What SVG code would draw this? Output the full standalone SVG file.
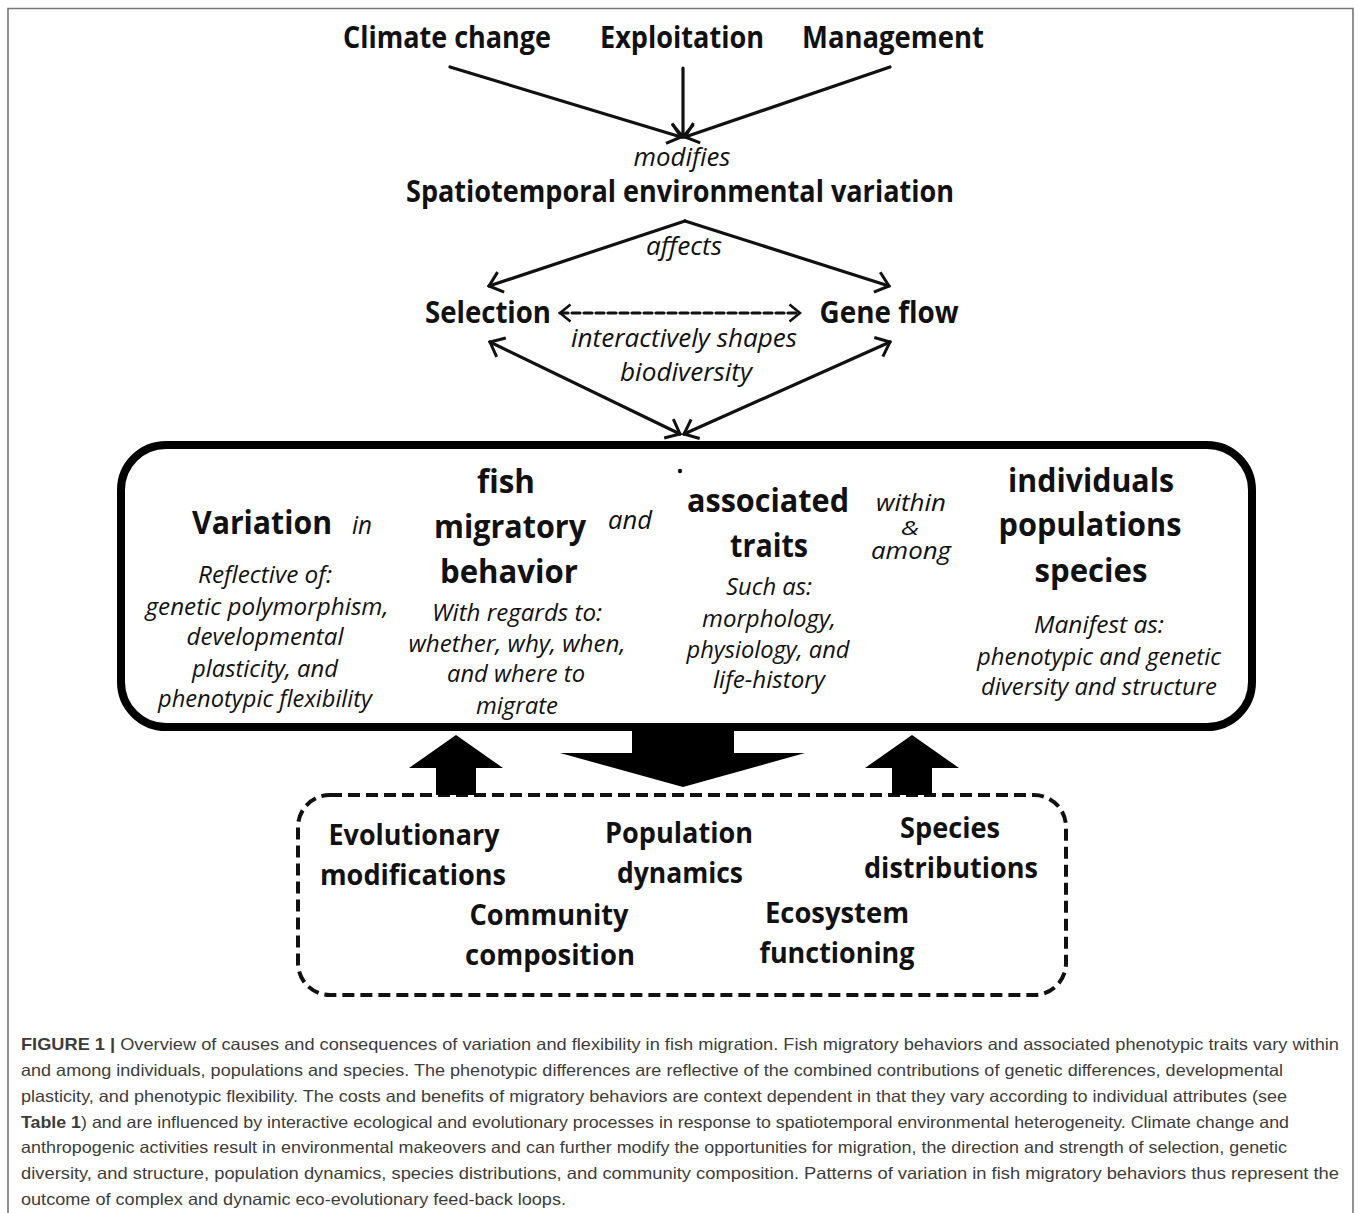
<svg xmlns="http://www.w3.org/2000/svg" width="1358" height="1213" viewBox="0 0 1358 1213">
<style>
.b{font-family:"Open Sans","Noto Sans",sans-serif;font-weight:700;fill:#111;text-anchor:middle}
.i{font-family:"Open Sans","Noto Sans",sans-serif;font-style:italic;font-weight:400;fill:#111;text-anchor:middle}
.t{font-size:31px}.m{font-size:30px}.bx{font-size:33px}.bt{font-size:28px}.it{font-size:25px}.s{font-size:23.5px}
.ln{stroke:#111;stroke-width:3.2;fill:none;stroke-linecap:round}
.cap{font-family:"Liberation Sans",Arial,sans-serif;font-size:16.5px;fill:#3c3c3c}
</style>
<defs>
<marker id="v" viewBox="0 0 16 24" refX="14" refY="12" markerWidth="16" markerHeight="24" markerUnits="userSpaceOnUse" orient="auto-start-reverse">
<path d="M1.5,1.5 L14,12 L1.5,22.5" fill="none" stroke="#111" stroke-width="3"/>
</marker>
<marker id="vs" viewBox="0 0 14 20" refX="12" refY="10" markerWidth="14" markerHeight="20" markerUnits="userSpaceOnUse" orient="auto-start-reverse">
<path d="M1.5,1.5 L12,10 L1.5,18.5" fill="none" stroke="#111" stroke-width="2.6"/>
</marker>
</defs>
<rect x="0" y="0" width="1358" height="1213" fill="#fff"/>
<path d="M8,1213 V8.5 H1353 V1213" fill="none" stroke="#777" stroke-width="1.6"/>

<g id="n-climate"><text class="b t" x="447" y="48" textLength="208" lengthAdjust="spacingAndGlyphs">Climate change</text></g>
<g id="n-exploitation"><text class="b t" x="682" y="48" textLength="164" lengthAdjust="spacingAndGlyphs">Exploitation</text></g>
<g id="n-management"><text class="b t" x="893" y="48" textLength="182" lengthAdjust="spacingAndGlyphs">Management</text></g>
<g id="n-env">
<text class="i it" x="682" y="166" textLength="97" lengthAdjust="spacingAndGlyphs">modifies</text>
<text class="b m" x="680" y="202" textLength="548" lengthAdjust="spacingAndGlyphs">Spatiotemporal environmental variation</text>
<text class="i it" x="684" y="255" textLength="76" lengthAdjust="spacingAndGlyphs">affects</text>
</g>
<g id="n-selection"><text class="b m" x="488" y="323" textLength="126" lengthAdjust="spacingAndGlyphs">Selection</text></g>
<g id="n-geneflow"><text class="b m" x="889" y="323" textLength="139" lengthAdjust="spacingAndGlyphs">Gene flow</text></g>
<g id="n-shapes">
<text class="i it" x="684" y="347" textLength="226" lengthAdjust="spacingAndGlyphs">interactively shapes</text>
<text class="i it" x="686" y="381" textLength="132" lengthAdjust="spacingAndGlyphs">biodiversity</text>
</g>

<g id="n-variation-box">
<rect x="121" y="445" width="1131" height="282" rx="45" ry="45" fill="none" stroke="#000" stroke-width="8"/>
<circle cx="680" cy="471" r="2.2" fill="#111"/>
<text class="b bx" x="262" y="534" textLength="140" lengthAdjust="spacingAndGlyphs">Variation</text>
<text class="i it" x="362" y="534" textLength="20" lengthAdjust="spacingAndGlyphs">in</text>
<text class="i s" x="265" y="583" textLength="134" lengthAdjust="spacingAndGlyphs">Reflective of:</text>
<text class="i s" x="267" y="615" textLength="243" lengthAdjust="spacingAndGlyphs">genetic polymorphism,</text>
<text class="i s" x="265" y="645" textLength="157" lengthAdjust="spacingAndGlyphs">developmental</text>
<text class="i s" x="265" y="677" textLength="146" lengthAdjust="spacingAndGlyphs">plasticity, and</text>
<text class="i s" x="265" y="707" textLength="214" lengthAdjust="spacingAndGlyphs">phenotypic flexibility</text>

<text class="b bx" x="506" y="493" textLength="58" lengthAdjust="spacingAndGlyphs">fish</text>
<text class="b bx" x="510" y="538" textLength="152" lengthAdjust="spacingAndGlyphs">migratory</text>
<text class="b bx" x="509" y="583" textLength="138" lengthAdjust="spacingAndGlyphs">behavior</text>
<text class="i s" x="517" y="621" textLength="170" lengthAdjust="spacingAndGlyphs">With regards to:</text>
<text class="i s" x="517" y="652" textLength="217" lengthAdjust="spacingAndGlyphs">whether, why, when,</text>
<text class="i s" x="516" y="682" textLength="138" lengthAdjust="spacingAndGlyphs">and where to</text>
<text class="i s" x="517" y="714" textLength="82" lengthAdjust="spacingAndGlyphs">migrate</text>

<text class="i it" x="630" y="529" textLength="44" lengthAdjust="spacingAndGlyphs">and</text>

<text class="b bx" x="768" y="512" textLength="162" lengthAdjust="spacingAndGlyphs">associated</text>
<text class="b bx" x="769" y="557" textLength="78" lengthAdjust="spacingAndGlyphs">traits</text>
<text class="i s" x="769" y="595" textLength="86" lengthAdjust="spacingAndGlyphs">Such as:</text>
<text class="i s" x="769" y="627" textLength="134" lengthAdjust="spacingAndGlyphs">morphology,</text>
<text class="i s" x="768" y="658" textLength="163" lengthAdjust="spacingAndGlyphs">physiology, and</text>
<text class="i s" x="769" y="688" textLength="112" lengthAdjust="spacingAndGlyphs">life-history</text>

<g id="n-within-among">
<text class="i" x="911" y="511" font-size="24" textLength="70" lengthAdjust="spacingAndGlyphs">within</text>
<text class="i" x="910" y="535" font-size="20" textLength="18" lengthAdjust="spacingAndGlyphs">&amp;</text>
<text class="i" x="911" y="559" font-size="24" textLength="80" lengthAdjust="spacingAndGlyphs">among</text>
</g>

<text class="b bx" x="1091" y="492" textLength="166" lengthAdjust="spacingAndGlyphs">individuals</text>
<text class="b bx" x="1090" y="536" textLength="183" lengthAdjust="spacingAndGlyphs">populations</text>
<text class="b bx" x="1091" y="582" textLength="113" lengthAdjust="spacingAndGlyphs">species</text>
<text class="i s" x="1099" y="633" textLength="130" lengthAdjust="spacingAndGlyphs">Manifest as:</text>
<text class="i s" x="1099" y="665" textLength="244" lengthAdjust="spacingAndGlyphs">phenotypic and genetic</text>
<text class="i s" x="1099" y="695" textLength="236" lengthAdjust="spacingAndGlyphs">diversity and structure</text>
</g>

<g id="n-consequences">
<rect x="298" y="795" width="768" height="200" rx="32" ry="32" fill="none" stroke="#111" stroke-width="4" stroke-dasharray="12 6"/>
<text class="b bt" x="414" y="845" textLength="171" lengthAdjust="spacingAndGlyphs">Evolutionary</text>
<text class="b bt" x="413" y="885" textLength="186" lengthAdjust="spacingAndGlyphs">modifications</text>
<text class="b bt" x="679" y="843" textLength="148" lengthAdjust="spacingAndGlyphs">Population</text>
<text class="b bt" x="680" y="883" textLength="126" lengthAdjust="spacingAndGlyphs">dynamics</text>
<text class="b bt" x="950" y="838" textLength="100" lengthAdjust="spacingAndGlyphs">Species</text>
<text class="b bt" x="951" y="878" textLength="174" lengthAdjust="spacingAndGlyphs">distributions</text>
<text class="b bt" x="549" y="925" textLength="159" lengthAdjust="spacingAndGlyphs">Community</text>
<text class="b bt" x="550" y="965" textLength="170" lengthAdjust="spacingAndGlyphs">composition</text>
<text class="b bt" x="837" y="923" textLength="144" lengthAdjust="spacingAndGlyphs">Ecosystem</text>
<text class="b bt" x="837" y="963" textLength="155" lengthAdjust="spacingAndGlyphs">functioning</text>
</g>

<g id="connectors">
<line class="ln" x1="450" y1="67" x2="681" y2="137" marker-end="url(#v)"/>
<line class="ln" x1="683" y1="68" x2="683" y2="137" stroke-width="2.4" marker-end="url(#v)"/>
<line class="ln" x1="890" y1="67" x2="685" y2="137" marker-end="url(#v)"/>
<line class="ln" x1="685" y1="221" x2="489" y2="286" marker-end="url(#v)"/>
<line class="ln" x1="685" y1="221" x2="889" y2="286" marker-end="url(#v)"/>
<line class="ln" x1="560" y1="313" x2="800" y2="313" stroke-width="2.6" stroke-dasharray="8 4" stroke-linecap="butt" marker-start="url(#vs)" marker-end="url(#vs)"/>
<line class="ln" x1="490" y1="342" x2="680" y2="434" marker-start="url(#v)" marker-end="url(#v)"/>
<line class="ln" x1="890" y1="342" x2="684" y2="434" marker-start="url(#v)" marker-end="url(#v)"/>
<polygon points="436,795 476,795 476,768 503,768 456,735 409,768 436,768" fill="#000"/>
<polygon points="632,727 734,727 734,753 805,753 683,787 560,753 632,753" fill="#000"/>
<polygon points="892,795 932,795 932,768 959,768 912,735 865,768 892,768" fill="#000"/>
</g>

<g id="caption">
<text class="cap" x="21" y="1050" textLength="1318" lengthAdjust="spacingAndGlyphs"><tspan font-weight="700">FIGURE 1 |</tspan> Overview of causes and consequences of variation and flexibility in fish migration. Fish migratory behaviors and associated phenotypic traits vary within</text>
<text class="cap" x="21" y="1076" textLength="1262" lengthAdjust="spacingAndGlyphs">and among individuals, populations and species. The phenotypic differences are reflective of the combined contributions of genetic differences, developmental</text>
<text class="cap" x="21" y="1102" textLength="1266" lengthAdjust="spacingAndGlyphs">plasticity, and phenotypic flexibility. The costs and benefits of migratory behaviors are context dependent in that they vary according to individual attributes (see</text>
<text class="cap" x="21" y="1128" textLength="1268" lengthAdjust="spacingAndGlyphs"><tspan font-weight="700">Table 1</tspan>) and are influenced by interactive ecological and evolutionary processes in response to spatiotemporal environmental heterogeneity. Climate change and</text>
<text class="cap" x="21" y="1153" textLength="1266" lengthAdjust="spacingAndGlyphs">anthropogenic activities result in environmental makeovers and can further modify the opportunities for migration, the direction and strength of selection, genetic</text>
<text class="cap" x="21" y="1179" textLength="1318" lengthAdjust="spacingAndGlyphs">diversity, and structure, population dynamics, species distributions, and community composition. Patterns of variation in fish migratory behaviors thus represent the</text>
<text class="cap" x="21" y="1205" textLength="545" lengthAdjust="spacingAndGlyphs">outcome of complex and dynamic eco-evolutionary feed-back loops.</text>
</g>
</svg>
